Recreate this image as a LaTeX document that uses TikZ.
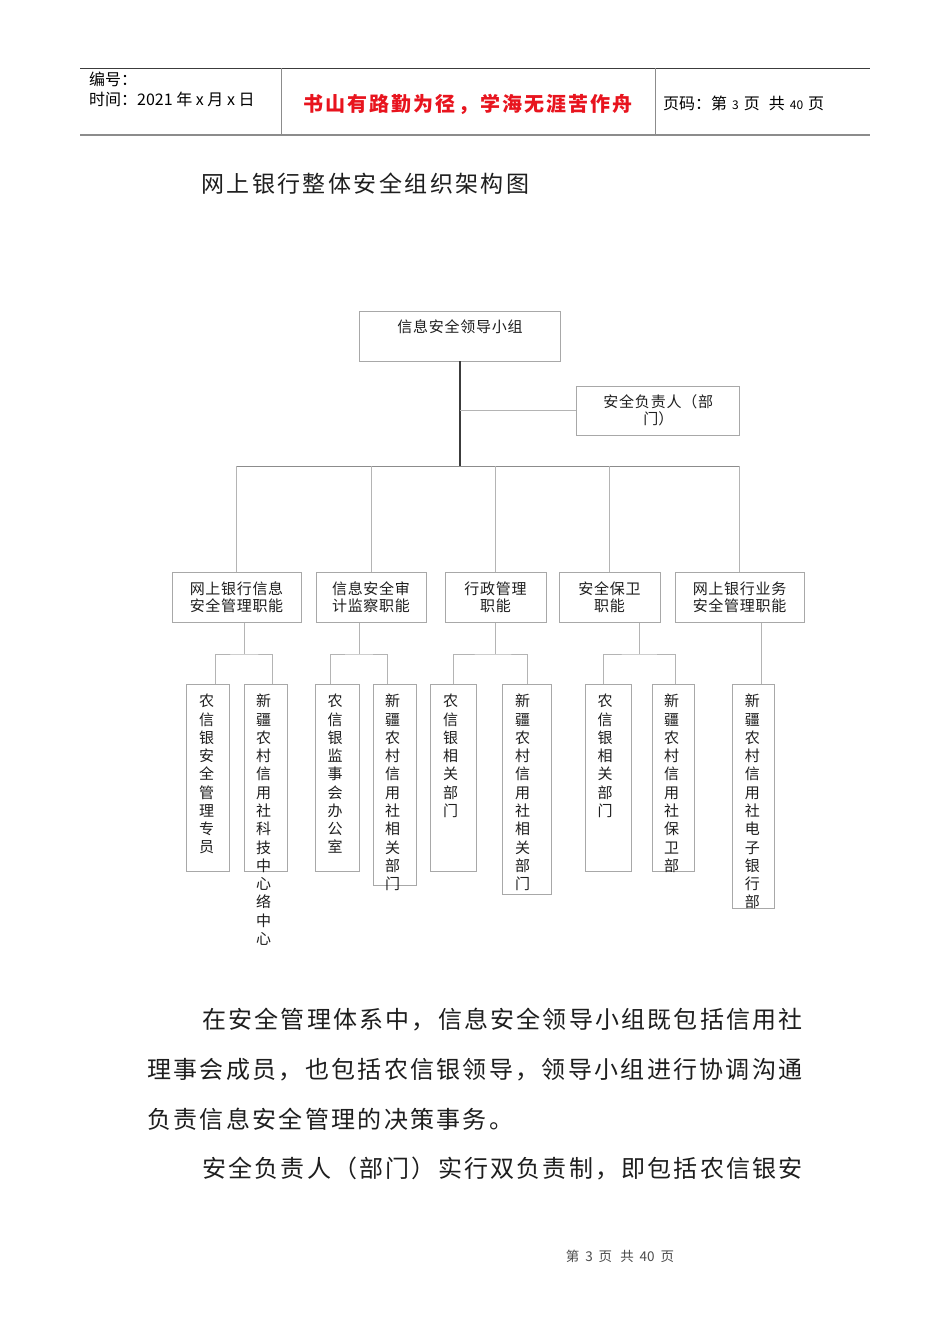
\documentclass[tikz,border=0pt]{standalone}
\usepackage{fontspec}
\setmainfont{Noto Sans CJK SC}
\newlength\spw
\makeatletter
\def\spaced#1#2{\setlength\spw{#1}\sp@ced#2\relax}
\def\sp@ced#1{\ifx#1\relax\else\makebox[\spw][c]{#1}\expandafter\sp@ced\fi}
\makeatother
\newcommand\fsz[2]{\fontsize{#1}{#2}\selectfont}
\definecolor{boxgray}{HTML}{A8A8A8}
\definecolor{linegray}{HTML}{B4B4B4}
\definecolor{busgray}{HTML}{8C8C8C}
\definecolor{trunkgray}{HTML}{3C3C3C}
\definecolor{ink}{HTML}{1E1E1E}
\definecolor{mottored}{HTML}{E8141E}
\tikzset{
  gbox/.style={draw=boxgray, line width=0.8pt, inner sep=0pt, text=ink},
  mbox/.style={gbox, minimum height=50pt, align=center, font=\fsz{15}{17}},
  vbox/.style={gbox, minimum width=43pt},
  vtxt/.style={anchor=north, inner sep=0pt, align=center, font=\fsz{15}{18.27}, text=ink},
  conn/.style={draw=linegray, line width=0.8pt},
  bus/.style={draw=busgray, line width=0.9pt},
  trunk/.style={draw=trunkgray, line width=1.1pt},
  para/.style={anchor=west, inner sep=0pt, font=\fsz{24}{26}, text=ink},
  hdrtxt/.style={anchor=west, inner sep=0pt, font=\fsz{16}{18}, text=black},
}
\begin{document}
\begin{tikzpicture}[x=1pt,y=-1pt]
\useasboundingbox (0,0) rectangle (950,1344);
\fill[white] (0,0) rectangle (950,1344);
% ---------- header ----------
\draw[draw=trunkgray, line width=0.9pt] (80,68) -- (870,68);
\draw[draw=busgray, line width=2pt] (80,135) -- (870,135);
\draw[draw=busgray, line width=0.9pt] (281,68) -- (281,135);
\draw[draw=busgray, line width=0.9pt] (655,68) -- (655,135);
\node[hdrtxt] (bh) at (89,79) {编号：};
\node[hdrtxt] (sj) at (89,99) {时间：2021 年 x 月 x 日};
\node[inner sep=0pt, font=\fsz{20}{22}\bfseries, text=mottored] (motto) at (468,104) {\spaced{22.1pt}{书山有路勤为径，学海无涯苦作舟}};
\node[hdrtxt] (ym) at (663,103) {页码：第\hspace{5pt}{\fsz{12}{12}3}\hspace{5pt}页\hspace{9pt}共\hspace{5pt}{\fsz{12}{12}40}\hspace{5pt}页};
% ---------- title ----------
\node[anchor=west, inner sep=0pt, font=\fsz{23}{25}, text=ink] (title) at (200,184) {\spaced{25.4pt}{网上银行整体安全组织架构图}};
% ---------- diagram ----------
\node[gbox, minimum width=201pt, minimum height=49.5pt] (top) at (460,336.2) {};
\node[inner sep=0pt, font=\fsz{15}{17}, text=ink] (toptxt) at (460,327) {\spaced{15.75pt}{信息安全领导小组}};
\node[gbox, minimum width=163pt, minimum height=49pt, align=center, font=\fsz{15}{17}] (resp) at (658.3,410.5) {\spaced{15.8pt}{安全负责人（部}\\门）};
\coordinate (busc) at (460,466);
\node[mbox, minimum width=129pt] (m1) at (236.5,597.5) {\spaced{15.7pt}{网上银行信息}\\\spaced{15.7pt}{安全管理职能}};
\node[mbox, minimum width=110pt] (m2) at (371,597.5) {\spaced{15.7pt}{信息安全审}\\\spaced{15.7pt}{计监察职能}};
\node[mbox, minimum width=101pt] (m3) at (495.5,597.5) {\spaced{15.7pt}{行政管理}\\\spaced{15.7pt}{职能}};
\node[mbox, minimum width=101pt] (m4) at (609.5,597.5) {\spaced{15.7pt}{安全保卫}\\\spaced{15.7pt}{职能}};
\node[mbox, minimum width=129pt] (m5) at (739.5,597.5) {\spaced{15.7pt}{网上银行业务}\\\spaced{15.7pt}{安全管理职能}};
% connectors top level
\draw[trunk] (top.south) -- (busc);
\draw[conn] (top.south |- resp.west) -- (resp.west);
\draw[bus] (m1.north |- busc) -- (m5.north |- busc);
\foreach \m in {m1,m2,m3,m4,m5} \draw[conn] (\m.north |- busc) -- (\m.north);
% third level boxes
\node[vbox, minimum height=187pt] (a1) at (208.2,777.5) {};
\node[vbox, minimum height=187pt] (a2) at (265.8,777.5) {};
\node[vbox, minimum width=43.6pt, minimum height=187pt] (b1) at (337.5,777.5) {};
\node[vbox, minimum height=201.7pt] (b2) at (395.2,784.85) {};
\node[vbox, minimum width=45.6pt, minimum height=187pt] (c1) at (453.5,777.5) {};
\node[vbox, minimum width=49pt, minimum height=210pt] (c2) at (527.2,789) {};
\node[vbox, minimum width=45.6pt, minimum height=187pt] (d1) at (608.5,777.5) {};
\node[vbox, minimum width=41.7pt, minimum height=187pt] (d2) at (673.2,777.5) {};
\node[vbox, minimum width=42pt, minimum height=224.3pt] (e) at (753.3,796.15) {};
\node[vtxt] (a1t) at (206.7,694) {农\\信\\银\\安\\全\\管\\理\\专\\员};
\node[vtxt] (a2t) at (263.5,694) {新\\疆\\农\\村\\信\\用\\社\\科\\技\\中\\心\\络\\中\\心};
\node[vtxt] (b1t) at (335,694) {农\\信\\银\\监\\事\\会\\办\\公\\室};
\node[vtxt] (b2t) at (392.7,694) {新\\疆\\农\\村\\信\\用\\社\\相\\关\\部\\门};
\node[vtxt] (c1t) at (450.5,694) {农\\信\\银\\相\\关\\部\\门};
\node[vtxt] (c2t) at (522.5,694) {新\\疆\\农\\村\\信\\用\\社\\相\\关\\部\\门};
\node[vtxt] (d1t) at (605,694) {农\\信\\银\\相\\关\\部\\门};
\node[vtxt] (d2t) at (671.7,694) {新\\疆\\农\\村\\信\\用\\社\\保\\卫\\部};
\node[vtxt] (et) at (752.3,694) {新\\疆\\农\\村\\信\\用\\社\\电\\子\\银\\行\\部};
% junctions
\coordinate (j1) at (244.5,654);
\coordinate (j2) at (359,654);
\coordinate (j3) at (495.5,654);
\coordinate (j4) at (639.3,654);
\draw[conn] (m1.south -| j1) -- (j1);
\draw[conn] (m2.south -| j2) -- (j2);
\draw[conn] (m3.south -| j3) -- (j3);
\draw[conn] (m4.south -| j4) -- (j4);
\draw[conn] ([xshift=7.1pt]a1.north) |- (j1) -| ([xshift=6.9pt]a2.north);
\draw[conn] ([xshift=-7.2pt]b1.north) |- (j2) -| ([xshift=-7.5pt]b2.north);
\draw[conn] ([xshift=-0.2pt]c1.north) |- (j3) -| ([xshift=0.1pt]c2.north);
\draw[conn] ([xshift=-5.2pt]d1.north) |- (j4) -| ([xshift=2.1pt]d2.north);
\draw[conn] ([xshift=8.2pt]e.north |- m5.south) -- ([xshift=8.2pt]e.north);
% ---------- paragraph ----------
\node[para] (p1) at (201,1020) {\spaced{26.2pt}{在安全管理体系中，信息安全领导小组既包括信用社}};
\node[para] (p2) at (146,1070) {\spaced{26.3pt}{理事会成员，也包括农信银领导，领导小组进行协调沟通}};
\node[para] (p3) at (146,1119) {\spaced{26.3pt}{负责信息安全管理的决策事务。}};
\node[para] (p4) at (201,1168) {\spaced{26.2pt}{安全负责人（部门）实行双负责制，即包括农信银安}};
% ---------- footer ----------
\node[inner sep=0pt, font=\fsz{13.5}{15}, text=ink!80] (foot) at (620,1256) {第\hspace{6pt}3\hspace{6pt}页\hspace{8pt}共\hspace{6pt}40\hspace{6pt}页};
\end{tikzpicture}
\end{document}
